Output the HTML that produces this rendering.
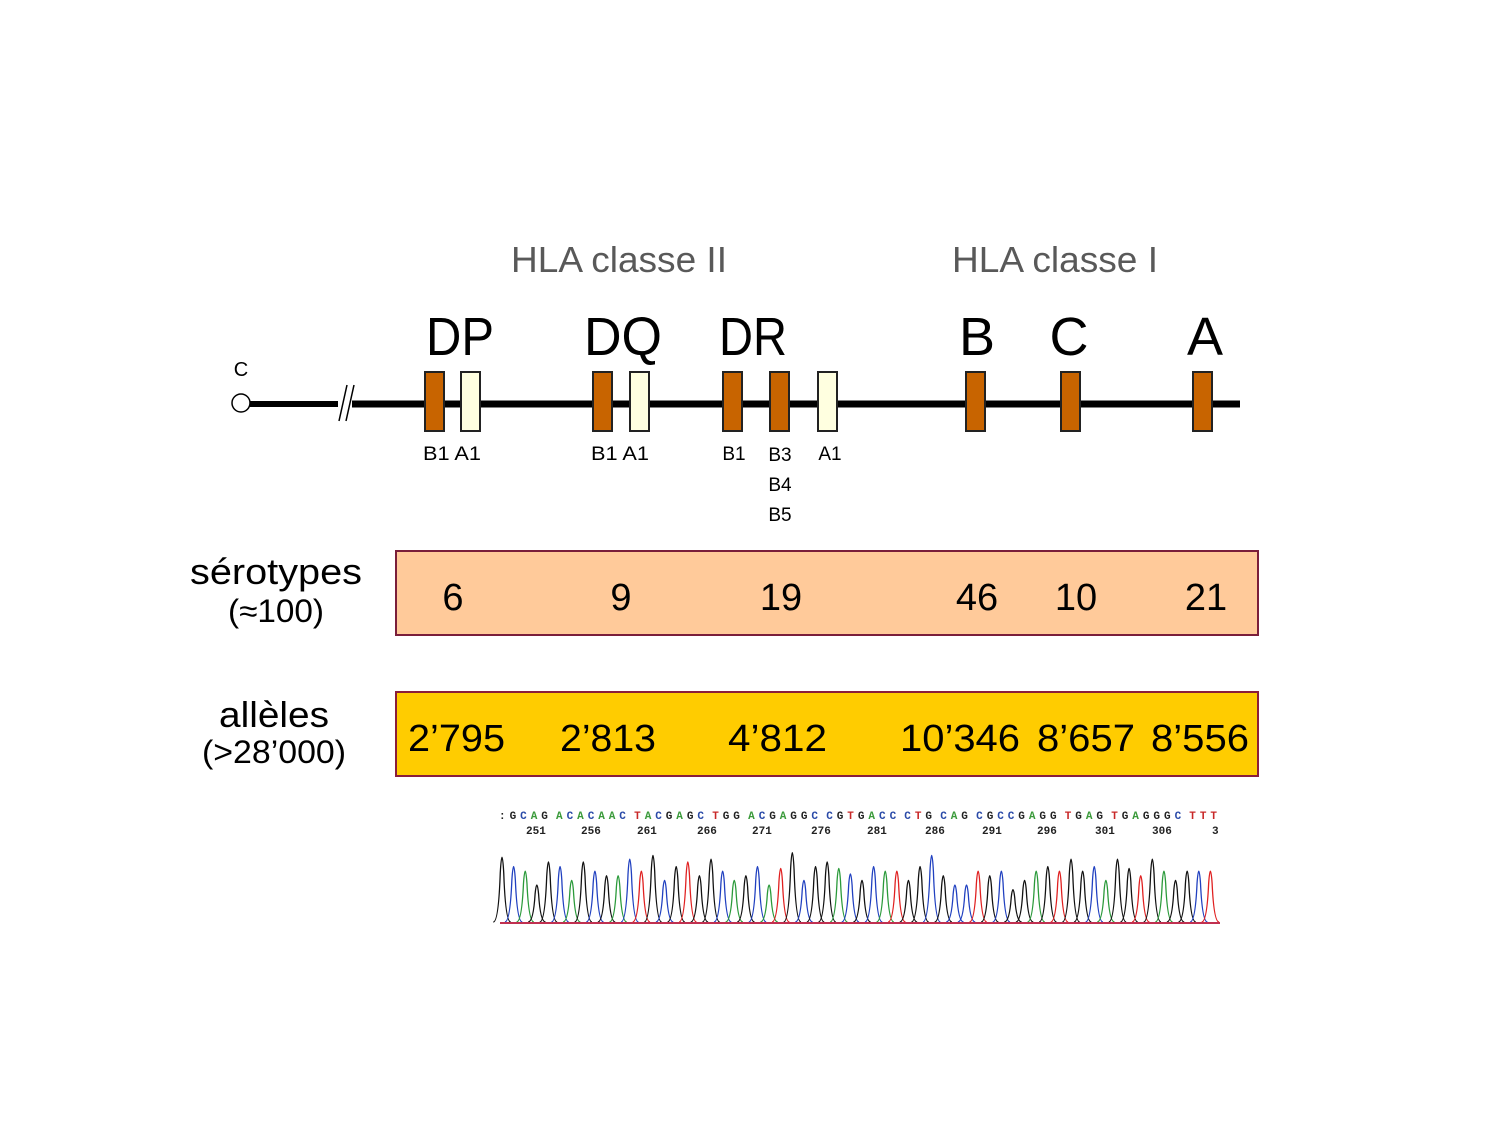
<!DOCTYPE html>
<html><head><meta charset="utf-8"><style>
html,body{margin:0;padding:0;background:#fff;}
svg{display:block;font-family:"Liberation Sans",sans-serif;}
</style></head><body>
<svg id="s" width="1500" height="1125" viewBox="0 0 1500 1125" xmlns="http://www.w3.org/2000/svg">
<rect width="1500" height="1125" fill="#fff"/>
<text x="619" y="272" font-size="36" fill="#595959" text-anchor="middle" textLength="216" lengthAdjust="spacingAndGlyphs">HLA classe II</text>
<text x="1055" y="272" font-size="36" fill="#595959" text-anchor="middle" textLength="206" lengthAdjust="spacingAndGlyphs">HLA classe I</text>
<g font-size="54" fill="#000" text-anchor="middle">
<text x="460" y="355" textLength="68" lengthAdjust="spacingAndGlyphs">DP</text>
<text x="623" y="355" textLength="78" lengthAdjust="spacingAndGlyphs">DQ</text>
<text x="753" y="355" textLength="68" lengthAdjust="spacingAndGlyphs">DR</text>
<text x="977" y="355">B</text>
<text x="1069" y="355">C</text>
<text x="1205" y="355">A</text>
</g>
<text x="241" y="376" font-size="20" text-anchor="middle">C</text>
<line x1="250" y1="404" x2="338" y2="404" stroke="#000" stroke-width="6"/>
<line x1="352" y1="404" x2="1240" y2="404" stroke="#000" stroke-width="7"/>
<line x1="339" y1="421" x2="347" y2="385" stroke="#000" stroke-width="1.5"/>
<line x1="346" y1="421" x2="354" y2="385" stroke="#000" stroke-width="1.5"/>
<circle cx="241" cy="403" r="9" fill="#fff" stroke="#000" stroke-width="1.5"/>
<g stroke="#222" stroke-width="2">
<rect x="425" y="372" width="19" height="59" fill="#c86400"/>
<rect x="461" y="372" width="19" height="59" fill="#ffffe0"/>
<rect x="593" y="372" width="19" height="59" fill="#c86400"/>
<rect x="630" y="372" width="19" height="59" fill="#ffffe0"/>
<rect x="723" y="372" width="19" height="59" fill="#c86400"/>
<rect x="770" y="372" width="19" height="59" fill="#c86400"/>
<rect x="818" y="372" width="19" height="59" fill="#ffffe0"/>
<rect x="966" y="372" width="19" height="59" fill="#c86400"/>
<rect x="1061" y="372" width="19" height="59" fill="#c86400"/>
<rect x="1193" y="372" width="19" height="59" fill="#c86400"/>
</g>
<g font-size="19" fill="#000" text-anchor="middle">
<text x="452" y="460" textLength="58" lengthAdjust="spacingAndGlyphs">B1 A1</text>
<text x="620" y="460" textLength="58" lengthAdjust="spacingAndGlyphs">B1 A1</text>
<text x="734" y="460">B1</text>
<text x="780" y="461">B3</text>
<text x="780" y="491">B4</text>
<text x="780" y="521">B5</text>
<text x="830" y="460">A1</text>
</g>
<rect x="396" y="551" width="862" height="84" fill="#ffca9a" stroke="#7a1e3a" stroke-width="2"/>
<rect x="396" y="692" width="862" height="84" fill="#ffcc00" stroke="#8a1e3a" stroke-width="2"/>
<text x="276" y="584" font-size="36" text-anchor="middle" textLength="172" lengthAdjust="spacingAndGlyphs">sérotypes</text>
<text x="276" y="622" font-size="32" text-anchor="middle" textLength="96" lengthAdjust="spacingAndGlyphs">(≈100)</text>
<text x="274" y="727" font-size="36" text-anchor="middle" textLength="110" lengthAdjust="spacingAndGlyphs">allèles</text>
<text x="274" y="763" font-size="32" text-anchor="middle" textLength="144" lengthAdjust="spacingAndGlyphs">(&gt;28’000)</text>
<g font-size="38" text-anchor="middle">
<text x="453" y="610">6</text>
<text x="621" y="610">9</text>
<text x="781" y="610">19</text>
<text x="977" y="610">46</text>
<text x="1076" y="610">10</text>
<text x="1206" y="610">21</text>
</g>
<g font-size="38">
<text x="408" y="751" textLength="97" lengthAdjust="spacingAndGlyphs">2’795</text>
<text x="560" y="751" textLength="96" lengthAdjust="spacingAndGlyphs">2’813</text>
<text x="728" y="751" textLength="99" lengthAdjust="spacingAndGlyphs">4’812</text>
<text x="900" y="751" textLength="120" lengthAdjust="spacingAndGlyphs">10’346</text>
<text x="1037" y="751" textLength="98" lengthAdjust="spacingAndGlyphs">8’657</text>
<text x="1151" y="751" textLength="98" lengthAdjust="spacingAndGlyphs">8’556</text>
</g>
<g id="seq" font-family="Liberation Mono,monospace" font-size="11" font-weight="bold"></g>
<g font-family="Liberation Mono,monospace" font-size="11" fill="#222" font-weight="bold">
<text x="526" y="834">251</text><text x="581" y="834">256</text><text x="637" y="834">261</text><text x="697" y="834">266</text><text x="752" y="834">271</text><text x="811" y="834">276</text><text x="867" y="834">281</text><text x="925" y="834">286</text><text x="982" y="834">291</text><text x="1037" y="834">296</text><text x="1095" y="834">301</text><text x="1152" y="834">306</text><text x="1212" y="834">3</text>
</g>
<g id="peaks" fill="none" stroke-width="1.3"></g>
<line x1="500" y1="923" x2="1220" y2="923" stroke="#c03050" stroke-width="2"/>
</svg>
<script>
var seq=":GCAG ACACAAC TACGAGC TGG ACGAGGC CGTGACC CTG CAG CGCCGAGG TGAG TGAGGGC TTT";
var col={A:"#3a9a3a",C:"#2a4aa8",G:"#222",T:"#c82828",":":"#222"};
var g=document.getElementById("seq"),units=0;
for(var i=0;i<seq.length;i++)units+=seq[i]==" "?0.4:1;
var w=722/units,x=499;
for(var i=0;i<seq.length;i++){var c=seq[i];if(c==" "){x+=w*0.4;continue;}var t=document.createElementNS("http://www.w3.org/2000/svg","text");t.setAttribute("x",x.toFixed(1));t.setAttribute("y","819");t.setAttribute("fill",col[c]);t.textContent=c;g.appendChild(t);x+=w;}
var hs=[70,60,55,40,65,60,45,65,55,50,50,68,55,72,45,60,65,50,68,55,45,50,60,40,58,75,45,60,65,58,52,45,60,55,55,45,60,72,50,40,40,55,50,55,35,45,55,60,55,68,55,60,45,68,58,50,68,55,45,55,55,55];
var cs="GCAGGCAGCGACTGCGTGGCAGCATGCGGACGCATGGCGCCTGCGGAGTGGCAGGTGAGGCTT";
var p=document.getElementById("peaks"),n=hs.length,dx=720/n;
for(var j=0;j<n;j++){var cx=502+j*dx,h=hs[j],y0=922,yt=y0-h;var path=document.createElementNS("http://www.w3.org/2000/svg","path");
path.setAttribute("d","M"+(cx-dx*0.75)+","+y0+" Q"+(cx-dx*0.3)+","+y0+" "+(cx-dx*0.15)+","+(yt+h*0.3)+" Q"+cx+","+(yt-h*0.15)+" "+(cx+dx*0.15)+","+(yt+h*0.3)+" Q"+(cx+dx*0.3)+","+y0+" "+(cx+dx*0.75)+","+y0);
var c=cs[j%cs.length];path.setAttribute("stroke",c=="G"?"#111":c=="A"?"#2a9a3a":c=="C"?"#2040c0":"#e02020");p.appendChild(path);}
</script>
</body></html>
